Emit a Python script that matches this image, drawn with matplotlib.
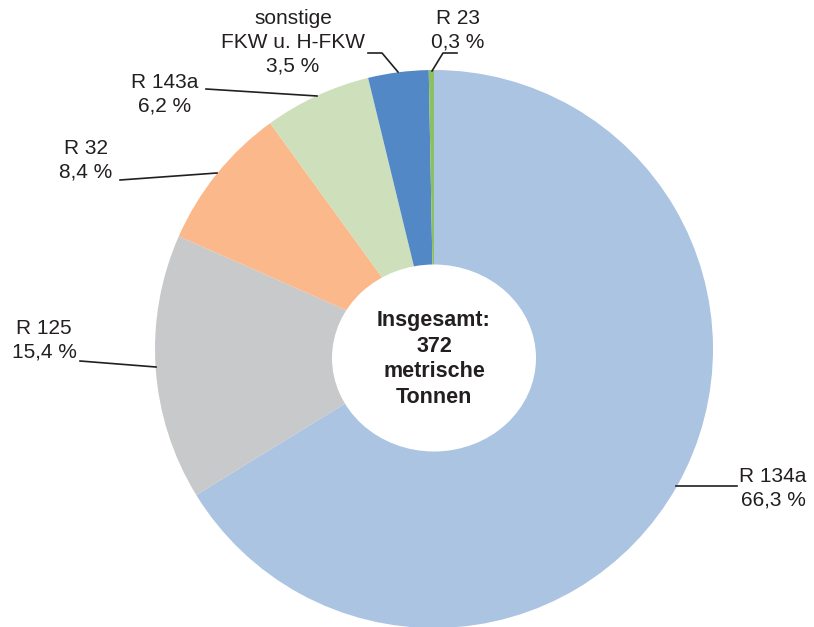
import matplotlib.pyplot as plt
from matplotlib.patches import Ellipse

# Anteile der H-FKW (Prozent), im Uhrzeigersinn ab 12 Uhr
labels = ['R 134a', 'R 125', 'R 32', 'R 143a', 'sonstige\nFKW u. H-FKW', 'R 23']
shares = [66.3, 15.4, 8.4, 6.2, 3.5, 0.3]
share_text = ['66,3 %', '15,4 %', '8,4 %', '6,2 %', '3,5 %', '0,3 %']
colors = ['#AAC4E2', '#C8C9CB', '#FBB98B', '#CEE0BB', '#5388C7', '#8DC063']
center_text = 'Insgesamt:\n372\nmetrische\nTonnen'

W, H = 814, 627
plt.rcParams['font.family'] = ['Liberation Sans', 'DejaVu Sans']

fig = plt.figure(figsize=(W / 100, H / 100), dpi=100)
ax = fig.add_axes([0, 0, 1, 1])

# y-Achse ist invertiert (Pixelkoordinaten), daher startangle=-90 und counterclock=True
ax.pie(shares, colors=colors, center=(434, 349), radius=279,
       startangle=-90, counterclock=True, frame=True,
       wedgeprops=dict(linewidth=0))
ax.add_patch(Ellipse((434, 358), 204, 187, facecolor='white', edgecolor='none', zorder=5))
ax.text(434, 359, center_text, ha='center', va='center', fontsize=15.5,
        fontweight='bold', color='#231F20', linespacing=1.3, zorder=6)

# Beschriftungen: (Textposition, Ausrichtung, Führungslinie)
label_pos = [
    ((773, 488), 'center', [(676, 486), (737, 486)]),
    ((44, 340), 'center', [(80, 361), (156, 367)]),
    ((86, 160), 'center', [(120, 180), (217, 173)]),
    ((165, 94), 'center', [(206, 89), (317, 96)]),
    ((293, 42), 'center', [(368, 53), (382, 53), (398, 72)]),
    ((458, 30), 'center', [(432, 71), (443, 53), (457, 53)]),
]
for name, txt, (pos, ha, line) in zip(labels, share_text, label_pos):
    ax.text(pos[0], pos[1], name + '\n' + txt, ha=ha, va='center',
            fontsize=15, color='#231F20', linespacing=1.3)
    xs, ys = zip(*line)
    ax.plot(xs, ys, color='#231F20', linewidth=1.2)

ax.set_xlim(0, W)
ax.set_ylim(H, 0)
ax.set_aspect('auto')
ax.axis('off')

fig.savefig('out.png', dpi=100)
